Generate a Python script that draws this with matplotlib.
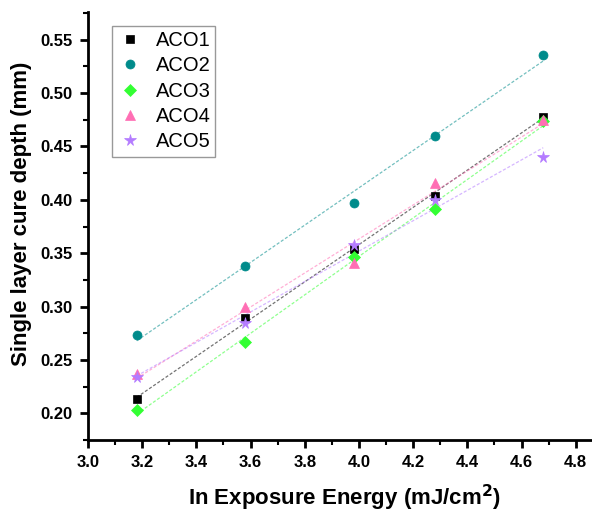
import numpy as np
import matplotlib.pyplot as plt
from matplotlib.ticker import MultipleLocator

plt.rcParams['font.family'] = ['Liberation Sans', 'DejaVu Sans']

# ln exposure energy
x = [3.18, 3.58, 3.98, 4.28, 4.68]

aco1 = [0.213, 0.289, 0.354, 0.404, 0.478]
aco2 = [0.273, 0.338, 0.397, 0.460, 0.536]
aco3 = [0.203, 0.267, 0.346, 0.391, 0.474]
aco4 = [0.237, 0.300, 0.341, 0.416, 0.475]
aco5 = [0.234, 0.285, 0.358, 0.400, 0.440]

names = ['ACO1', 'ACO2', 'ACO3', 'ACO4', 'ACO5']
series = [aco1, aco2, aco3, aco4, aco5]
colours = ['black', '#008b8b', '#33ff33', '#ff6eb4', '#b47cff']
markers = ['s', 'o', 'D', '^', '*']
msizes = [6, 6.5, 6.5, 7.5, 8.5]

f = plt.figure(figsize=(5.92, 5.12), dpi=100)
ax = f.add_axes([0.1486, 0.1406, 0.8514, 0.836])

xs = np.array(x)
for name, ys, c, m, ms in zip(names, series, colours, markers, msizes):
    ax.plot(xs, ys, ls='none', marker=m, color=c, markersize=ms, label=name,
            markeredgewidth=0.5, zorder=3)
    k, b = np.polyfit(xs, ys, 1)
    ax.plot(xs[[0, -1]], k * xs[[0, -1]] + b, ls=(0, (2.5, 1.5)), lw=0.9,
            color=c, alpha=0.55, zorder=2)

ax.set_xlim(3.0, 4.86)
ax.set_ylim(0.175, 0.576)
ax.xaxis.set_major_locator(MultipleLocator(0.2))
ax.xaxis.set_minor_locator(MultipleLocator(0.1))
ax.yaxis.set_major_locator(MultipleLocator(0.05))
ax.yaxis.set_minor_locator(MultipleLocator(0.025))

for s in ['top', 'right']:
    ax.spines[s].set_visible(False)
for s in ['left', 'bottom']:
    ax.spines[s].set_linewidth(2)

ax.tick_params(which='major', direction='out', length=6, width=2,
               labelsize=12, pad=5)
ax.tick_params(which='minor', direction='out', length=3.5, width=1.5)
for lab in ax.get_xticklabels() + ax.get_yticklabels():
    lab.set_fontweight('bold')

ax.set_xlabel('In Exposure Energy (mJ/cm$^\\mathbf{2}$)', fontsize=16,
              fontweight='bold')
ax.xaxis.set_label_coords(0.508, -0.1)
ax.set_ylabel('Single layer cure depth (mm)', fontsize=16, fontweight='bold')
ax.yaxis.set_label_coords(-0.112, 0.528)

leg = ax.legend(loc='upper left', bbox_to_anchor=(0.048, 0.968), fontsize=14.5,
                frameon=True, fancybox=False, edgecolor='gray',
                handletextpad=0.6, borderpad=0.25, labelspacing=0.32,
                handlelength=1.3, borderaxespad=0)
leg.get_frame().set_linewidth(1)

f.savefig('out.png', dpi=100)
